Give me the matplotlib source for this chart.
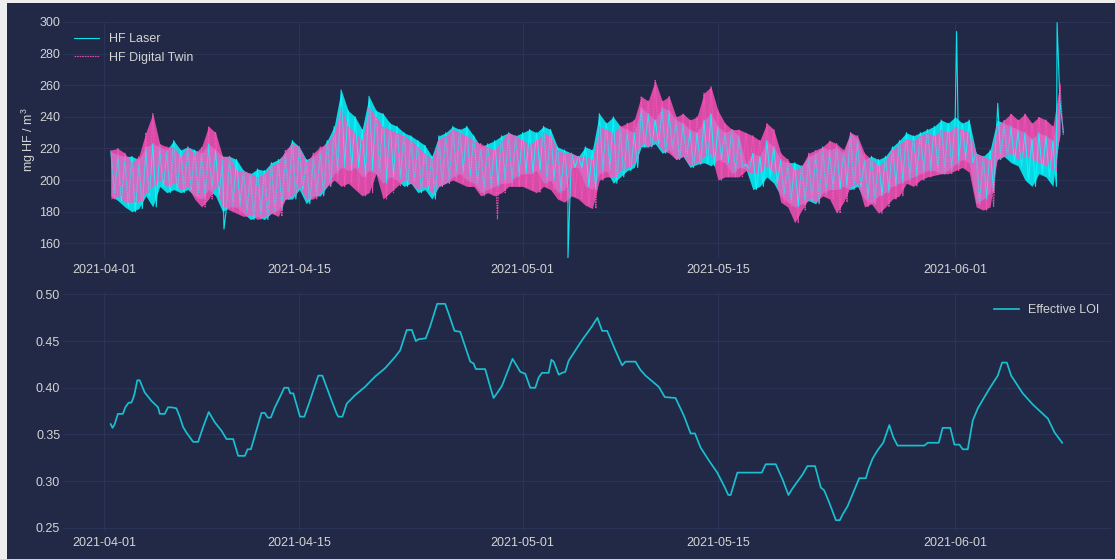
import matplotlib
matplotlib.use("Agg")
import matplotlib.pyplot as plt
import matplotlib.dates as mdates
import numpy as np
import pandas as pd
from matplotlib.patches import Rectangle

START = "2021-04-01"

# half-day readings (days after START) of local peaks / troughs of the two HF series
hf_days = np.arange(0.5, 69.0, 0.5)
laser_hi = [218, 216, 215, 215, 213, 221, 223, 221, 219, 225,
            219, 221, 219, 217, 223, 219, 215, 215, 213, 206,
            204, 207, 206, 211, 213, 217, 225, 221, 213, 215,
            219, 225, 234, 257, 244, 240, 232, 253, 244, 242,
            236, 234, 230, 228, 225, 222, 215, 228, 230, 234,
            232, 234, 228, 221, 223, 225, 228, 230, 228, 230,
            232, 230, 234, 232, 221, 219, 217, 215, 221, 219,
            242, 236, 240, 234, 232, 230, 246, 242, 238, 246,
            244, 238, 236, 232, 230, 238, 242, 234, 230, 232,
            228, 210, 217, 215, 225, 221, 213, 211, 211, 209,
            215, 217, 221, 219, 221, 217, 230, 226, 213, 215,
            213, 215, 221, 225, 230, 228, 230, 232, 234, 238,
            236, 240, 236, 238, 217, 215, 219, 238, 236, 234,
            232, 230, 226, 230, 228, 225, 250]
laser_lo = [190, 187, 183, 180, 182, 190, 183, 196, 192, 194,
            192, 194, 190, 188, 194, 190, 180, 183, 183, 179,
            175, 177, 175, 179, 181, 188, 188, 194, 185, 190,
            190, 196, 204, 208, 206, 208, 202, 206, 204, 198,
            202, 200, 196, 198, 192, 194, 188, 196, 198, 202,
            204, 200, 198, 192, 194, 196, 198, 198, 202, 204,
            204, 206, 198, 200, 192, 194, 208, 208, 196, 194,
            204, 206, 198, 202, 206, 208, 221, 221, 223, 217,
            219, 213, 215, 208, 210, 211, 209, 213, 211, 204,
            208, 207, 194, 196, 202, 198, 190, 186, 183, 185,
            187, 185, 192, 194, 194, 196, 194, 196, 188, 185,
            190, 192, 196, 198, 200, 202, 204, 206, 206, 204,
            206, 210, 213, 211, 185, 188, 192, 213, 215, 211,
            209, 200, 196, 204, 202, 196, 230]
twin_hi = [219, 220, 217, 211, 215, 230, 242, 223, 221, 221,
           215, 221, 217, 221, 234, 230, 215, 215, 206, 206,
           204, 202, 204, 209, 211, 219, 223, 221, 211, 217,
           221, 223, 230, 246, 234, 230, 225, 246, 240, 234,
           232, 230, 228, 225, 221, 217, 213, 226, 228, 232,
           230, 228, 225, 223, 221, 219, 225, 230, 228, 225,
           223, 225, 230, 228, 219, 217, 217, 215, 215, 213,
           234, 232, 230, 234, 236, 238, 253, 250, 263, 250,
           253, 240, 242, 238, 240, 255, 259, 244, 236, 232,
           232, 230, 228, 225, 236, 232, 217, 213, 206, 209,
           217, 219, 221, 225, 223, 219, 230, 228, 217, 213,
           209, 213, 219, 223, 226, 225, 228, 230, 228, 232,
           230, 234, 232, 230, 217, 215, 213, 234, 238, 242,
           238, 242, 236, 240, 238, 234, 261]
twin_lo = [188, 190, 186, 186, 186, 192, 196, 200, 196, 198,
           194, 196, 188, 183, 188, 196, 183, 181, 179, 177,
           178, 175, 177, 179, 177, 188, 190, 196, 188, 188,
           192, 196, 200, 196, 198, 194, 190, 192, 204, 188,
           192, 196, 200, 198, 194, 196, 192, 196, 198, 200,
           198, 196, 196, 190, 192, 190, 192, 196, 196, 196,
           194, 192, 196, 194, 188, 186, 190, 188, 184, 182,
           200, 202, 202, 206, 208, 211, 223, 221, 225, 219,
           217, 213, 215, 209, 211, 215, 217, 200, 202, 202,
           202, 206, 204, 205, 209, 205, 186, 183, 173, 181,
           188, 186, 190, 188, 179, 186, 196, 198, 183, 185,
           179, 183, 188, 190, 198, 196, 200, 202, 203, 204,
           204, 206, 208, 205, 183, 181, 183, 213, 215, 217,
           213, 215, 213, 211, 209, 206, 228]

# single outliers
laser_spike_days = [8.6, 33.25, 61.1, 64.05, 68.3]
laser_spike_vals = [169, 150.7, 294, 248.6, 299.6]
twin_spike_days = [28.2]
twin_spike_vals = [175]

# Effective LOI readings
loi_days = [0.48, 0.62, 0.77, 1.0, 1.36, 1.53, 1.77, 1.96, 2.08, 2.2, 2.39, 2.56, 2.92, 3.4,
            3.88, 4.0, 4.36, 4.59, 4.83, 5.19, 5.43, 5.67, 5.91, 6.15, 6.39, 6.75, 7.11, 7.51,
            7.94, 8.42, 8.78, 9.26, 9.62, 10.1, 10.29, 10.53, 10.82, 11.29, 11.53, 11.73, 11.96,
            12.25, 12.61, 12.92, 13.21, 13.35, 13.57, 14.05, 14.36, 14.76, 15.36, 15.65, 16.32,
            16.68, 16.8, 17.09, 17.4, 17.99, 18.71, 19.43, 20.15, 20.86, 21.22, 21.7, 22.06,
            22.35, 22.54, 23.06, 23.38, 23.73, 23.88, 24.45, 24.69, 25.12, 25.53, 25.89, 26.25,
            26.49, 26.65, 27.32, 27.68, 27.92, 28.16, 28.52, 29.28, 29.84, 30.19, 30.55, 30.91,
            31.15, 31.39, 31.87, 32.06, 32.23, 32.59, 32.83, 33.06, 33.3, 34.26, 34.98, 35.36,
            35.7, 36.06, 36.65, 37.13, 37.37, 38.09, 38.45, 38.81, 39.76, 40.19, 40.96, 41.56,
            42.04, 42.35, 42.75, 43.35, 43.95, 44.43, 44.74, 44.91, 45.39, 47.14, 47.42, 48.14,
            48.62, 49.05, 49.34, 50.06, 50.41, 50.96, 51.37, 51.61, 51.97, 52.45, 52.73, 52.93,
            53.29, 54.12, 54.6, 54.79, 55.08, 55.44, 55.84, 56.28, 56.56, 56.87, 58.79, 59.03,
            59.82, 60.1, 60.65, 60.94, 61.3, 61.54, 61.9, 62.26, 62.62, 63.45, 64.05, 64.36,
            64.7, 65.01, 65.84, 66.56, 67.64, 68.12, 68.67]
loi_vals = [0.361, 0.357, 0.361, 0.372, 0.372, 0.379, 0.384, 0.384, 0.388, 0.394, 0.408, 0.408,
            0.395, 0.386, 0.379, 0.372, 0.372, 0.379, 0.379, 0.378, 0.369, 0.358, 0.352, 0.347,
            0.342, 0.342, 0.358, 0.374, 0.363, 0.354, 0.345, 0.345, 0.327, 0.327, 0.334, 0.334,
            0.349, 0.373, 0.373, 0.368, 0.368, 0.379, 0.39, 0.4, 0.4, 0.394, 0.394, 0.369, 0.369,
            0.386, 0.413, 0.413, 0.386, 0.372, 0.369, 0.369, 0.383, 0.392, 0.401, 0.412, 0.421,
            0.433, 0.44, 0.462, 0.462, 0.45, 0.452, 0.453, 0.466, 0.483, 0.49, 0.49, 0.48, 0.461,
            0.46, 0.444, 0.428, 0.426, 0.42, 0.42, 0.401, 0.389, 0.394, 0.402, 0.431, 0.417,
            0.415, 0.4, 0.4, 0.411, 0.416, 0.416, 0.43, 0.428, 0.414, 0.416, 0.417, 0.429, 0.451,
            0.466, 0.475, 0.461, 0.461, 0.44, 0.424, 0.428, 0.428, 0.419, 0.413, 0.401, 0.39,
            0.389, 0.37, 0.351, 0.351, 0.336, 0.322, 0.309, 0.295, 0.285, 0.285, 0.309, 0.309,
            0.318, 0.318, 0.302, 0.285, 0.292, 0.307, 0.316, 0.316, 0.293, 0.29, 0.277, 0.258,
            0.258, 0.264, 0.273, 0.303, 0.303, 0.313, 0.324, 0.333, 0.341, 0.36, 0.347, 0.338,
            0.338, 0.341, 0.341, 0.357, 0.357, 0.339, 0.339, 0.334, 0.334, 0.365, 0.378, 0.399,
            0.413, 0.427, 0.427, 0.413, 0.394, 0.382, 0.367, 0.352, 0.341]

tick_labels = ["2021-04-01", "2021-04-15", "2021-05-01", "2021-05-15", "2021-06-01"]
top_yticks = [160, 180, 200, 220, 240, 260, 280, 300]
bottom_yticks = [0.25, 0.30, 0.35, 0.40, 0.45, 0.50]

BG = "#212946"
GRID = "#2A3459"
TEXT = "#d4d4d4"
CYAN = "#08F7FE"
PINK = "#FE53BB"


def to_dates(days):
    return pd.Timestamp(START) + pd.to_timedelta(np.asarray(days, dtype=float), unit="D")


def peaks_and_troughs(days, hi, lo, spike_days, spike_vals):
    """Interleave peak / trough readings (trough read a quarter day later) plus outliers."""
    days = np.asarray(days, dtype=float)
    t = np.empty(2 * len(days))
    v = np.empty(2 * len(days))
    t[0::2] = days
    t[1::2] = days + 0.25
    v[0::2] = hi
    v[1::2] = lo
    t = np.concatenate([t, spike_days])
    v = np.concatenate([v, spike_vals])
    order = np.argsort(t, kind="stable")
    return to_dates(t[order]), v[order]


plt.rcParams["font.family"] = ["Liberation Sans", "DejaVu Sans"]
plt.rcParams["font.size"] = 9
plt.rcParams["mathtext.default"] = "regular"
plt.rcParams["text.color"] = TEXT
plt.rcParams["axes.labelcolor"] = TEXT
plt.rcParams["xtick.color"] = TEXT
plt.rcParams["ytick.color"] = TEXT

fig = plt.figure(figsize=(11.15, 5.59), dpi=100, facecolor="#eeeeee")
# screenshot edge: light strip on the left and top
fig.patches.append(Rectangle((7 / 1115, 0), 1, 1 - 3 / 559, transform=fig.transFigure,
                             facecolor=BG, edgecolor="none", zorder=-5))

ax1 = fig.add_axes([63 / 1115, 1 - 258 / 559, 1048 / 1115, 236 / 559])
ax2 = fig.add_axes([63 / 1115, 1 - 531 / 559, 1048 / 1115, 238 / 559], sharex=ax1)

hf_dates = to_dates(hf_days)
lt, lv = peaks_and_troughs(hf_days, laser_hi, laser_lo, laser_spike_days, laser_spike_vals)
tt, tv = peaks_and_troughs(hf_days, twin_hi, twin_lo, twin_spike_days, twin_spike_vals)

# envelope bands give the dense look of the raw signal, the peak/trough lines the texture
ax1.fill_between(hf_dates, laser_lo, laser_hi, color=CYAN, alpha=0.85, lw=0)
ax1.fill_between(hf_dates, twin_lo, twin_hi, color=PINK, alpha=0.82, lw=0)
ax1.plot(lt, lv, color=CYAN, lw=0.8, alpha=0.9, label="HF Laser")
ax1.plot(tt, tv, color=PINK, lw=0.8, ls=(0, (1.5, 0.8)), alpha=0.85, label="HF Digital Twin")
ax1.margins(y=0)
ax1.set_yticks(top_yticks)
ax1.set_ylabel("mg HF / m$^{3}$", labelpad=1)
ax1.legend(loc="upper left", frameon=False, handlelength=2.0)

ax2.plot(to_dates(loi_days), loi_vals, color="#19BFD0", lw=1.25, label="Effective LOI")
ax2.set_yticks(bottom_yticks)
ax2.set_yticklabels([f"{v:.2f}" for v in bottom_yticks])
ax2.legend(loc="upper right", frameon=False, handlelength=2.0)

for ax in (ax1, ax2):
    ax.set_zorder(1)
    ax.set_facecolor(BG)
    for s in ax.spines.values():
        s.set_visible(False)
    ax.grid(True, color=GRID, lw=0.8)
    ax.set_axisbelow(True)
    ax.tick_params(axis="x", length=0, pad=4, labelbottom=True)
    ax.tick_params(axis="y", length=0, pad=2)
    ax.set_xticks(pd.to_datetime(tick_labels))
    ax.xaxis.set_major_formatter(mdates.DateFormatter("%Y-%m-%d"))

fig.savefig("out.png", dpi=100, facecolor=fig.get_facecolor())
